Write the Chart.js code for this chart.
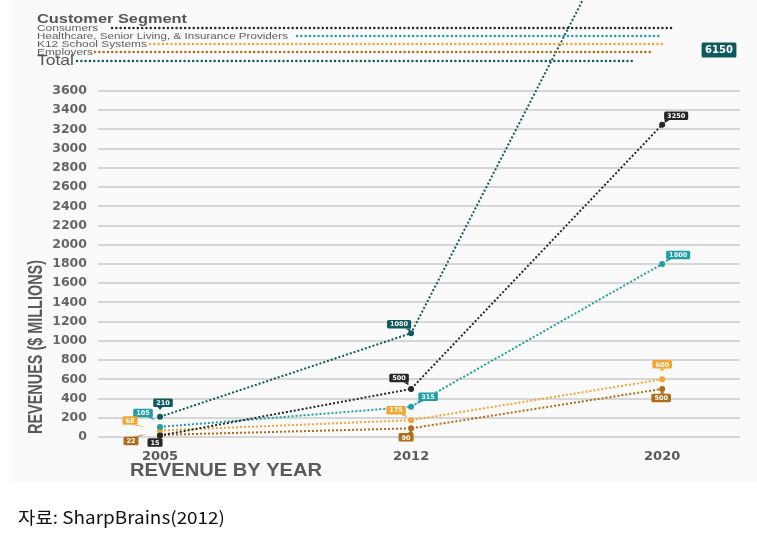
<!DOCTYPE html>
<html>
<head>
<meta charset="utf-8">
<script src="https://cdn.jsdelivr.net/npm/chart.js@4.4.1/dist/chart.umd.min.js"></script>
<style>
  html,body{margin:0;padding:0;background:#fff;}
  #wrap{position:relative;width:757px;height:539px;}
</style>
</head>
<body>
<div id="wrap"><canvas id="c" width="757" height="539"></canvas></div>
<script>
// ---------- DATA ----------
const years = ['2005', '2012', '2020'];
const seriesNames = ['Consumers', 'Healthcare, Senior Living, & Insurance Providers', 'K12 School Systems', 'Employers', 'Total'];
const consumers  = [15, 500, 3250];
const healthcare = [105, 315, 1800];
const k12        = [68, 175, 600];
const employers  = [22, 90, 500];
const total      = [210, 1080, 6150];
const yMin = 0, yMax = 3600, yStep = 200;

// ---------- STYLE ----------
const seriesColors = ['#262626', '#1f9ea6', '#f2a531', '#b06c16', '#0f5a5f'];
// label box offsets (dx, dy) from the point, per series per year
const labelOffsets = [
  [[-5, 7], [-12, -11], [14, -9]],
  [[-17, -14], [17, -10], [16, -9]],
  [[-30, -10], [-15, -10], [0, -15]],
  [[-29, 6], [-5, 9], [-1, 9]],
  [[3, -14], [-12, -9], null]
];
const legendRows = [
  {y: 31, textW: 61, lineFrom: 112, lineTo: 674},
  {y: 39, textW: 251, lineFrom: 297, lineTo: 660},
  {y: 47, textW: 110, lineFrom: 150, lineTo: 663},
  {y: 55, textW: 56, lineFrom: 95, lineTo: 652},
  {y: 65, textW: 37, lineFrom: 77, lineTo: 633}
];
const seriesValues = [consumers, healthcare, k12, employers, total];

function drawText(ctx, text, x, y, font, width, color, align) {
  ctx.save();
  ctx.font = font;
  const w = ctx.measureText(text).width;
  const s = width ? width / w : 1;
  ctx.translate(x, y);
  ctx.scale(s, 1);
  ctx.fillStyle = color;
  ctx.textBaseline = 'alphabetic';
  ctx.textAlign = align || 'left';
  ctx.fillText(text, 0, 0);
  ctx.restore();
}

function dotLine(ctx, x1, x2, y, color) {
  ctx.save();
  ctx.strokeStyle = color;
  ctx.lineWidth = 2.4;
  ctx.lineCap = 'round';
  ctx.setLineDash([0.1, 4.2]);
  ctx.beginPath();
  ctx.moveTo(x1, y);
  ctx.lineTo(x2, y);
  ctx.stroke();
  ctx.restore();
}

function labelBox(ctx, text, cx, cy, px, py, color, fontSize, padX, h, tail) {
  ctx.save();
  ctx.font = 'bold ' + fontSize + 'px "DejaVu Sans"';
  const w = ctx.measureText(text).width + padX * 2;
  const x = cx - w / 2, y = cy - h / 2;
  ctx.fillStyle = color;
  if (tail) {
    ctx.beginPath();
    const below = py > cy;
    const ex = Math.max(x + 3, Math.min(x + w - 3, px));
    const ey = below ? y + h : y;
    ctx.moveTo(ex - 2.5, ey);
    ctx.lineTo(ex + 2.5, ey);
    ctx.lineTo(ex + (px - ex) * 0.5, ey + (below ? 3 : -3));
    ctx.closePath();
    ctx.fill();
  }
  ctx.beginPath();
  if (ctx.roundRect) ctx.roundRect(x, y, w, h, 1.5); else ctx.rect(x, y, w, h);
  ctx.fill();
  ctx.fillStyle = '#ffffff';
  ctx.textAlign = 'center';
  ctx.textBaseline = 'middle';
  ctx.fillText(text, cx, cy + 0.5);
  ctx.restore();
}

const decor = {
  id: 'decor',
  beforeDraw(chart) {
    const ctx = chart.ctx;
    ctx.save();
    ctx.fillStyle = '#fafafa';
    ctx.fillRect(10, 0, 747, 482);
    ctx.restore();
  },
  afterDatasetsDraw(chart) {
    const ctx = chart.ctx;
    seriesValues.forEach((vals, si) => {
      const meta = chart.getDatasetMeta(si);
      vals.forEach((v, i) => {
        const off = labelOffsets[si][i];
        const pt = meta.data[i];
        if (off) {
          labelBox(ctx, String(v), pt.x + off[0], pt.y + off[1], pt.x, pt.y, seriesColors[si], 6.5, 3, 8.5, true);
        }
      });
    });
    // Total 2020 value is above the axis range: label at the top-right
    const ca = chart.chartArea;
    const tx = ca.right - 21, ty = ca.top - 41;
    labelBox(ctx, String(total[2]), tx, ty, tx, ty, seriesColors[4], 10, 3.5, 15, false);
  },
  afterDraw(chart) {
    const ctx = chart.ctx;
    // legend
    drawText(ctx, 'Customer Segment', 37, 23, 'bold 13px "Liberation Sans"', 150, '#555555');
    seriesNames.forEach((n, i) => {
      const r = legendRows[i];
      const isTotal = i === 4;
      drawText(ctx, n, 37, r.y, (isTotal ? '14px' : '9px') + ' "Liberation Sans"', r.textW, isTotal ? '#555555' : '#5e5e5e');
      dotLine(ctx, r.lineFrom, r.lineTo, r.y - (isTotal ? 4 : 3), seriesColors[i]);
    });
    // y title
    ctx.save();
    ctx.font = 'bold 21px "Liberation Sans"';
    const t = 'REVENUES ($ MILLIONS)';
    const w = ctx.measureText(t).width;
    ctx.translate(42, 347);
    ctx.rotate(-Math.PI / 2);
    ctx.scale(174 / w, 1);
    ctx.fillStyle = '#5a5a5a';
    ctx.textAlign = 'center';
    ctx.textBaseline = 'alphabetic';
    ctx.fillText(t, 0, 0);
    ctx.restore();
    // x title
    drawText(ctx, 'REVENUE BY YEAR', 130, 476, 'bold 18px "Liberation Sans"', 192, '#5a5a5a');
    // source
    drawText(ctx, '자료: SharpBrains(2012)', 18, 524, '17px "Noto Sans CJK KR"', 207, '#111111');
  }
};

const datasets = seriesNames.map((name, si) => ({
  label: name,
  data: seriesValues[si].map((v, i) => ({x: i, y: v})),
  borderColor: seriesColors[si],
  backgroundColor: seriesColors[si],
  borderWidth: 2,
  borderDash: [2, 2],
  pointRadius: 3,
  pointHoverRadius: 3,
  pointBackgroundColor: seriesColors[si],
  pointBorderWidth: 0,
  tension: 0,
  clip: si === 4 ? {left: 0, right: 20, top: 200, bottom: 0} : 8
}));

new Chart(document.getElementById('c'), {
  type: 'line',
  data: {datasets},
  options: {
    responsive: false,
    animation: false,
    events: [],
    layout: {padding: {left: 0, right: 17, top: 91, bottom: 0}},
    plugins: {legend: {display: false}, tooltip: {enabled: false}},
    scales: {
      x: {
        type: 'linear',
        min: -0.247,
        max: 2.31,
        afterBuildTicks: (s) => { s.ticks = years.map((y, i) => ({value: i})); },
        afterFit: (s) => { s.height = 102; },
        grid: {display: false, drawTicks: false},
        border: {display: false},
        ticks: {
          callback: (v) => years[v],
          font: {family: 'DejaVu Sans', weight: 'bold', size: 13},
          color: '#5a5a5a',
          padding: 12,
          maxRotation: 0,
          autoSkip: false
        }
      },
      y: {
        min: yMin,
        max: yMax,
        afterFit: (s) => { s.width = 98; },
        grid: {color: '#d6d6d6', lineWidth: 2, drawTicks: false},
        border: {display: false},
        ticks: {
          stepSize: yStep,
          callback: (v) => String(v),
          font: {family: 'DejaVu Sans', weight: 'bold', size: 12.5},
          color: '#666666',
          padding: 11
        }
      }
    }
  },
  plugins: [decor]
});
</script>
</body>
</html>
